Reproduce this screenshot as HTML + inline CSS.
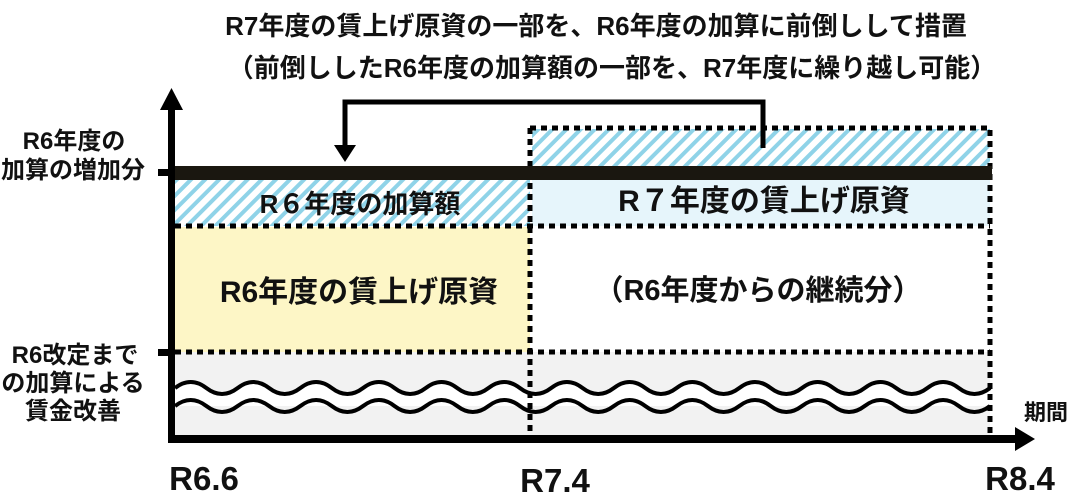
<!DOCTYPE html>
<html><head><meta charset="utf-8"><style>
body{margin:0;background:#fff}
svg text{font-family:"Liberation Sans","Noto Sans CJK JP",sans-serif;font-weight:bold;fill:#111}
</style></head><body>
<svg width="1074" height="499" viewBox="0 0 1074 499" xmlns="http://www.w3.org/2000/svg">
<defs>
<pattern id="h" width="10" height="10" patternUnits="userSpaceOnUse" patternTransform="rotate(45)">
<rect width="10" height="10" fill="#fff"/><rect width="4" height="10" fill="#8fd3e8"/>
</pattern>
</defs>
<text x="596" y="35" font-size="26" text-anchor="middle">R7年度の賃上げ原資の一部を、R6年度の加算に前倒しして措置</text>
<text x="612" y="77" font-size="26" text-anchor="middle">（前倒ししたR6年度の加算額の一部を、R7年度に繰り越し可能）</text>
<rect x="175" y="180" width="355" height="46" fill="url(#h)"/>
<rect x="532" y="129" width="458" height="37" fill="url(#h)"/>
<rect x="532" y="180" width="458" height="46" fill="#e6f5fb"/>
<rect x="175" y="227" width="355" height="125" fill="#fdf6c6"/>
<rect x="175" y="352" width="815" height="86" fill="#f2f2f2"/>
<path d="M175 388 q15.7 -12 31.35 0 t31.35 0 t31.35 0 t31.35 0 t31.35 0 t31.35 0 t31.35 0 t31.35 0 t31.35 0 t31.35 0 t31.35 0 t31.35 0 t31.35 0 t31.35 0 t31.35 0 t31.35 0 t31.35 0 t31.35 0 t31.35 0 t31.35 0 t31.35 0 t31.35 0 t31.35 0 t31.35 0 t31.35 0 t31.35 0 L990 406 L175 406 Z" fill="#fff"/>
<path d="M175 388 q15.7 -12 31.35 0 t31.35 0 t31.35 0 t31.35 0 t31.35 0 t31.35 0 t31.35 0 t31.35 0 t31.35 0 t31.35 0 t31.35 0 t31.35 0 t31.35 0 t31.35 0 t31.35 0 t31.35 0 t31.35 0 t31.35 0 t31.35 0 t31.35 0 t31.35 0 t31.35 0 t31.35 0 t31.35 0 t31.35 0 t31.35 0" fill="none" stroke="#000" stroke-width="4"/>
<path d="M175 406 q15.7 -12 31.35 0 t31.35 0 t31.35 0 t31.35 0 t31.35 0 t31.35 0 t31.35 0 t31.35 0 t31.35 0 t31.35 0 t31.35 0 t31.35 0 t31.35 0 t31.35 0 t31.35 0 t31.35 0 t31.35 0 t31.35 0 t31.35 0 t31.35 0 t31.35 0 t31.35 0 t31.35 0 t31.35 0 t31.35 0 t31.35 0" fill="none" stroke="#000" stroke-width="4"/>
<g stroke="#000" stroke-width="5" stroke-dasharray="6 5" fill="none">
<path d="M530 128 H990 V438"/>
<path d="M530 128 V440"/>
<line x1="175" y1="226" x2="990" y2="226"/>
<line x1="175" y1="352" x2="990" y2="352"/>
</g>
<rect x="172" y="166" width="820" height="14" fill="#1a1710"/>
<path d="M763 148 V102 H345 V148" fill="none" stroke="#000" stroke-width="5"/>
<polygon points="334,145 356,145 345,162" fill="#000"/>
<rect x="168" y="105" width="7" height="337" fill="#000"/>
<polygon points="160,110 183,110 171.5,88" fill="#000"/>
<rect x="168" y="435" width="850" height="8" fill="#000"/>
<polygon points="1015,427 1015,451 1035,439" fill="#000"/>
<rect x="158" y="169" width="12" height="7" fill="#000"/>
<rect x="158" y="349" width="12" height="7" fill="#000"/>
<text x="360" y="213" font-size="26" text-anchor="middle">R６年度の加算額</text>
<text x="764" y="211" font-size="30" text-anchor="middle">R７年度の賃上げ原資</text>
<text x="359" y="302" font-size="30" text-anchor="middle">R6年度の賃上げ原資</text>
<text x="758" y="300" font-size="29" text-anchor="middle">（R6年度からの継続分）</text>
<g font-size="24" text-anchor="middle">
<text x="74" y="149">R6年度の</text>
<text x="73" y="178">加算の増加分</text>
<text x="75" y="363">R6改定まで</text>
<text x="73" y="391">の加算による</text>
<text x="73" y="419">賃金改善</text>
</g>
<text x="1046" y="420" font-size="22" text-anchor="middle">期間</text>
<g font-size="33" text-anchor="middle">
<text x="204" y="490">R6.6</text>
<text x="555" y="492">R7.4</text>
<text x="1020" y="490">R8.4</text>
</g>
</svg>
</body></html>
